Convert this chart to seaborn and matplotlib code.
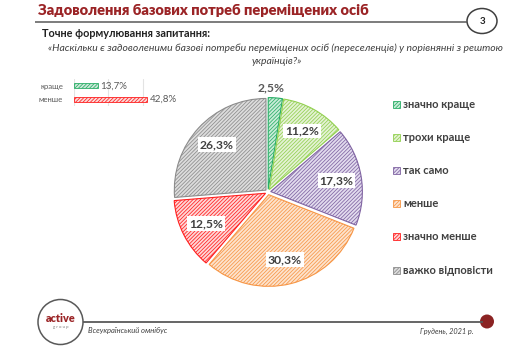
import matplotlib
matplotlib.use("Agg")
import matplotlib.pyplot as plt
from matplotlib.patches import Rectangle, Ellipse
import numpy as np
import pandas as pd
import seaborn as sns

# ---- data ----
categories = ["значно краще", "трохи краще", "так само", "менше", "значно менше", "важко відповісти"]
shares = [2.5, 11.2, 17.3, 30.3, 12.5, 26.3]
share_labels = ["2,5%", "11,2%", "17,3%", "30,3%", "12,5%", "26,3%"]
line_colors = ["#2aae67", "#92d050", "#8064a2", "#f79646", "#ff1f1f", "#8c8c8c"]
fill_colors = ["#c9ecd8", "#e4f2d4", "#e2dbee", "#fde3cd", "#ffd6d6", "#dcdcdc"]

summary_cats = ["краще", "менше"]
summary_vals = [13.7, 42.8]
summary_labels = ["13,7%", "42,8%"]
summary_line = ["#2aae67", "#ff1f1f"]
summary_fill = ["#c9ecd8", "#ffd6d6"]

title = "Задоволення базових потреб переміщених осіб"
subtitle = "Точне формулювання запитання:"
question_1 = "«Наскільки є задоволеними базові потреби переміщених осіб (переселенців) у порівнянні з рештою"
question_2 = "українців?»"
footer_left = "Всеукраїнський омнібус"
footer_right = "Грудень, 2021 р."
page_no = "3"

W, H = 527, 347
HATCH = "/////////"
sns.set_theme(style="white")
plt.rcParams["font.family"] = ["Lato", "DejaVu Sans"]
plt.rcParams["hatch.linewidth"] = 0.55

fig = plt.figure(figsize=(W / 100, H / 100), dpi=100)
fig.patch.set_facecolor("white")

# overlay in pixel units for the slide decorations
deco = fig.add_axes([0, 0, 1, 1])
deco.set_xlim(0, W)
deco.set_ylim(H, 0)
deco.axis("off")

dark = "#404040"
brand = "#9b2426"

deco.text(38, 10, title, color=brand, fontsize=10.5, fontweight="heavy", va="center", ha="left")
deco.plot([35, 467], [22, 22], color="#595959", lw=1.1, solid_capstyle="butt")
deco.add_patch(Ellipse((482, 21), 30, 25, facecolor="white", edgecolor="#404040", lw=1.1))
deco.text(482, 21.5, page_no, fontsize=7, fontweight="bold", color="#222222", ha="center", va="center")

deco.text(42, 33, subtitle, color="#222222", fontsize=7.8, fontweight="bold", va="center", ha="left")
deco.text(275, 48, question_1, color=dark, fontsize=7.5, style="italic", va="center", ha="center")
deco.text(277, 61, question_2, color=dark, fontsize=7.5, style="italic", va="center", ha="center")

# footer
deco.plot([83, 483], [321.5, 321.5], color="#595959", lw=1.3, solid_capstyle="butt")
deco.add_patch(Ellipse((487, 321.5), 14, 14, facecolor="#8b2323", edgecolor="none"))
deco.add_patch(Ellipse((60.5, 322), 45, 45, facecolor="white", edgecolor="#595959", lw=1.1))
deco.text(60.5, 318, "active", color=brand, fontsize=7.8, fontweight="heavy", ha="center", va="center")
deco.text(60.5, 327, "g r o u p", color="#7f7f7f", fontsize=3.2, ha="center", va="center")
deco.text(88, 330, footer_left, color=dark, fontsize=5.5, style="italic", ha="left", va="center")
deco.text(473, 331, footer_right, color=dark, fontsize=5.3, style="italic", ha="right", va="center")

# ---- summary bars ----
bx0, bx1 = 74.3, 159.6
by0, by1 = 78.8, 106.4
bax = fig.add_axes([bx0 / W, 1 - by1 / H, (bx1 - bx0) / W, (by1 - by0) / H])
sdf = pd.DataFrame({"cat": summary_cats, "val": summary_vals})
sns.barplot(data=sdf, x="val", y="cat", hue="cat", palette=summary_fill, orient="h",
            width=0.36, legend=False, ax=bax)
for bar, ec in zip(bax.patches, summary_line):
    bar.set_edgecolor(ec)
    bar.set_hatch(HATCH)
    bar.set_linewidth(0.6)
bax.set_xlim(0, 50)
bax.set_xticks([0, 20, 40])
bax.xaxis.grid(True, color="#e3e3e3", lw=0.8)
bax.set_axisbelow(True)
bax.set_xticklabels([])
bax.set_xlabel("")
bax.set_ylabel("")
bax.tick_params(axis="y", length=0, pad=8, labelsize=5.6, labelcolor="#595959")
bax.tick_params(axis="x", length=0)
for s in bax.spines.values():
    s.set_visible(False)
bax.patch.set_alpha(0)
for i, (v, lab) in enumerate(zip(summary_vals, summary_labels)):
    bax.text(v + 1.4, i, lab, color="#595959", fontsize=7, va="center", ha="left", clip_on=False)

# ---- pie ----
cx, cy, half = 268, 192, 110
pax = fig.add_axes([(cx - half) / W, 1 - (cy + half) / H, 2 * half / W, 2 * half / H])
wedges, _ = pax.pie(shares, startangle=90, counterclock=False, explode=[0.03] * len(shares),
                    colors=fill_colors, wedgeprops=dict(linewidth=0.8))
for w, ec in zip(wedges, line_colors):
    w.set_edgecolor(ec)
    w.set_hatch(HATCH)
pax.set_xlim(-1.2, 1.2)
pax.set_ylim(-1.2, 1.2)
pax.set_aspect("equal")
pax.axis("off")

for i, (w, lab) in enumerate(zip(wedges, share_labels)):
    ang = np.deg2rad((w.theta1 + w.theta2) / 2)
    if i == 0:
        pax.text(0.03, 1.14, lab, fontsize=8.7, fontweight="bold", color="#595959", ha="center", va="center")
        continue
    r = 0.76
    pax.text(r * np.cos(ang), r * np.sin(ang), lab, fontsize=8.7, fontweight="bold", color=dark,
             ha="center", va="center",
             bbox=dict(boxstyle="square,pad=0.15", facecolor="white", edgecolor="none"))

# ---- legend ----
leg_y = [104, 137, 170, 203.5, 236.5, 270]
for y, lab, fc, ec in zip(leg_y, categories, fill_colors, line_colors):
    deco.add_patch(Rectangle((392.5, y - 3.5), 7, 7, facecolor=fc, edgecolor=ec, hatch=HATCH, lw=0.6))
    deco.text(403, y, lab, color="#404040", fontsize=8, fontweight="bold", ha="left", va="center")

fig.savefig("out.png", dpi=100)
